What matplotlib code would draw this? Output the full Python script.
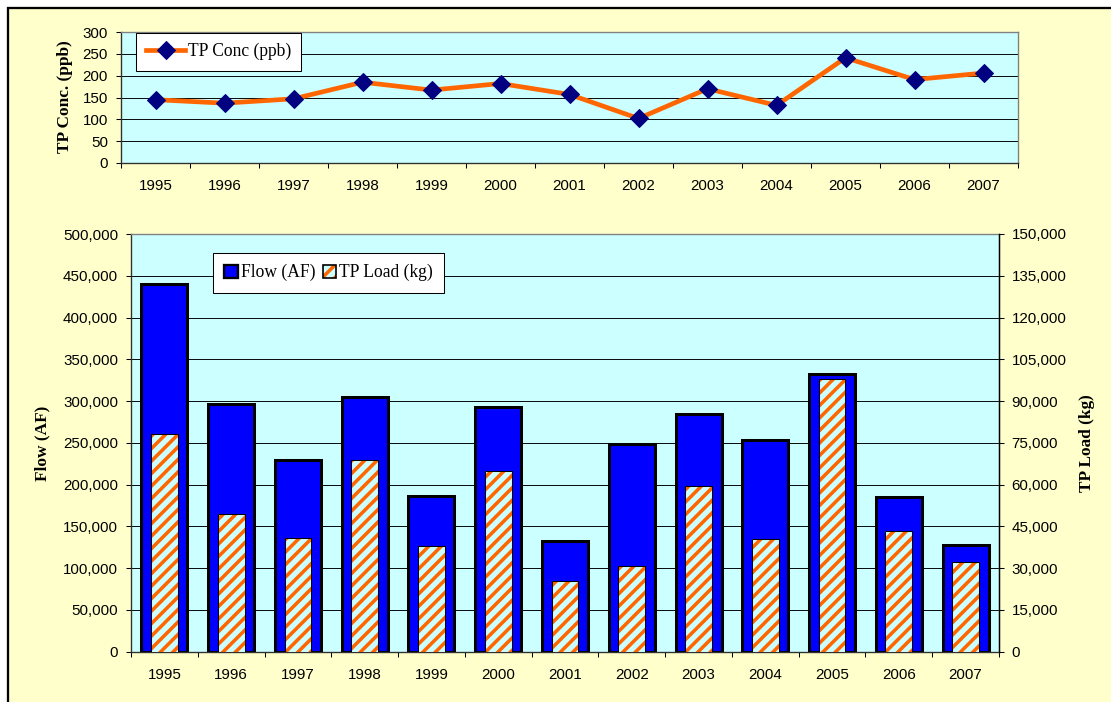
import numpy as np
import matplotlib
matplotlib.use("Agg")
import matplotlib.pyplot as plt
from matplotlib.patches import Rectangle, Patch
from matplotlib.ticker import FuncFormatter, MultipleLocator, FixedLocator

years = ["1995", "1996", "1997", "1998", "1999", "2000", "2001",
         "2002", "2003", "2004", "2005", "2006", "2007"]
tp_conc = [145, 137, 147, 185, 167, 182, 157, 102, 170, 132, 241, 191, 206]
flow_af = [440000, 296500, 229500, 305200, 186000, 292900, 132500,
           248300, 284900, 253000, 332000, 185200, 128100]
tp_load_kg = [78300, 49600, 40900, 68700, 37900, 64900, 25500,
              30900, 59400, 40600, 97800, 43300, 32200]

DPI = 75
W, H = 1111, 702
plt.rcParams['hatch.linewidth'] = 3.4
sans = ['Liberation Sans', 'DejaVu Sans']
serif = ['Liberation Serif', 'DejaVu Serif']

bg = '#FFFFCC'
plot_bg = '#CCFFFF'
orange = '#FF6600'

fig = plt.figure(figsize=(W / DPI, H / DPI), dpi=DPI, facecolor='white')
# outer frame (cut off at right and bottom like the original)
fig.patches.append(Rectangle((8 / W, -0.1), 1.2, 1.1 - 8 / H, transform=fig.transFigure,
                             facecolor=bg, edgecolor='black', lw=2.2, zorder=-10))

x = np.arange(len(years))


def fmt_thousands(v, pos):
    return f"{int(round(v)):,}"


def style_axes(ax, xpad):
    ax.set_facecolor(plot_bg)
    ax.set_xlim(-0.5, len(years) - 0.5)
    ax.xaxis.set_major_locator(FixedLocator(x))
    ax.set_xticklabels(years, fontsize=14.5, family=sans)
    ax.xaxis.set_minor_locator(FixedLocator(np.arange(len(years) + 1) - 0.5))
    ax.tick_params(axis='x', which='major', length=0, pad=xpad)
    ax.tick_params(axis='x', which='minor', length=5, width=1, direction='out')
    ax.tick_params(axis='y', length=5, width=1, direction='out', pad=7.5, labelsize=14.5)
    for lab in ax.get_yticklabels():
        lab.set_family(sans)
    ax.grid(axis='y', color='black', lw=0.9)
    ax.set_axisbelow(True)
    ax.spines['top'].set_color('#808080')
    ax.spines['right'].set_color('#808080')
    ax.spines['left'].set_color('#303030')
    ax.spines['bottom'].set_color('#303030')
    for s in ax.spines.values():
        s.set_linewidth(1.3)


# top: TP concentration
ax_top = fig.add_axes([121 / W, 1 - 163 / H, (1018 - 121) / W, (163 - 32) / H])
ax_top.set_ylim(0, 300)
ax_top.yaxis.set_major_locator(MultipleLocator(50))
ax_top.plot(x, tp_conc, color=orange, lw=4.5, marker='D', ms=12,
            mfc='#000080', mec='#000080', label='TP Conc (ppb)', zorder=3)
style_axes(ax_top, 15)
for lab in ax_top.get_yticklabels():
    lab.set_family(sans)
leg = ax_top.legend(loc='upper left', bbox_to_anchor=(0.0167, 0.995), fancybox=False,
                    framealpha=1, edgecolor='black', prop={'family': serif, 'size': 16.8},
                    handlelength=2.2, borderpad=0.6, handletextpad=0.15, borderaxespad=0)
leg.get_frame().set_linewidth(1.0)

# bottom: flow and TP load
ax_b = fig.add_axes([131 / W, 1 - 651.7 / H, (999 - 131) / W, (651.7 - 234) / H])
ax_b.set_ylim(0, 500000)
ax_b.yaxis.set_major_locator(MultipleLocator(50000))
ax_b.yaxis.set_major_formatter(FuncFormatter(fmt_thousands))
ax_b.bar(x, flow_af, width=0.69, color='#0000FF', edgecolor='black', lw=2.9, zorder=2)
style_axes(ax_b, 16)

ax_r = ax_b.twinx()
ax_r.set_ylim(0, 150000)
ax_r.yaxis.set_major_locator(MultipleLocator(15000))
ax_r.yaxis.set_major_formatter(FuncFormatter(fmt_thousands))
ax_r.bar(x, tp_load_kg, width=0.4, color=plot_bg, edgecolor=orange, hatch='//', lw=0, zorder=2)
ax_r.bar(x, tp_load_kg, width=0.4, fill=False, edgecolor='black', lw=1.0, zorder=3)
ax_r.tick_params(axis='y', length=5, width=1, direction='out', pad=7, labelsize=14.5)
for lab in ax_r.get_yticklabels():
    lab.set_family(sans)
ax_r.spines['right'].set_color('black')
ax_r.spines['right'].set_linewidth(1.3)
ax_r.spines['top'].set_visible(False)
ax_r.spines['left'].set_visible(False)
ax_r.spines['bottom'].set_visible(False)

h_flow = Patch(facecolor='#0000FF', edgecolor='black', lw=2.2)
h_load = (Patch(facecolor=plot_bg, edgecolor=orange, hatch='//', lw=0),
          Patch(fill=False, edgecolor='black', lw=1.6))
leg2 = ax_b.legend([h_flow, h_load], ['Flow (AF)', 'TP Load (kg)'], loc='upper left',
                   bbox_to_anchor=(0.0945, 0.955), ncol=2, fancybox=False, framealpha=1,
                   edgecolor='black', prop={'family': serif, 'size': 16.8},
                   handlelength=0.75, handleheight=0.75, handletextpad=0.2,
                   columnspacing=0.4, borderpad=0.65, borderaxespad=0)
leg2.get_frame().set_linewidth(1.0)
leg2.set_zorder(10)

# axis titles
fig.text(65 / W, 1 - 97 / H, 'TP Conc. (ppb)', rotation=90, ha='center', va='center',
         family=serif, fontweight='bold', fontsize=16.6)
fig.text(42 / W, 1 - 443 / H, 'Flow (AF)', rotation=90, ha='center', va='center',
         family=serif, fontweight='bold', fontsize=16.6)
fig.text(1087 / W, 1 - 443 / H, 'TP Load (kg)', rotation=90, ha='center', va='center',
         family=serif, fontweight='bold', fontsize=16.6)

fig.savefig('out.png', dpi=DPI, facecolor=fig.get_facecolor())
